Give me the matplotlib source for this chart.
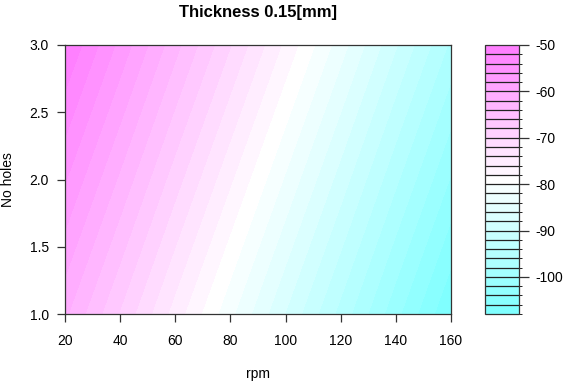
"""
Filled contour of the thickness 0.15 mm response surface (rpm vs number of holes),
redrawn in the look of R's filled.contour with cm.colors.
"""
import colorsys
import numpy as np
import matplotlib
matplotlib.use("Agg")
import matplotlib.pyplot as plt
from matplotlib.colors import ListedColormap, BoundaryNorm

plt.rcParams["font.family"] = ["Liberation Sans", "DejaVu Sans"]

# --- values ---
rpm = [20, 40, 60, 80, 100, 120, 140, 160]
holes = [1.0, 1.5, 2.0, 2.5, 3.0]
# one row per holes value (bottom to top), one column per rpm
resp_h10 = [-61.6, -68.2, -74.9, -81.5, -88.1, -94.7, -101.4, -108.0]
resp_h15 = [-58.7, -65.3, -72.0, -78.6, -85.2, -91.8, -98.5, -105.1]
resp_h20 = [-55.8, -62.4, -69.1, -75.7, -82.3, -88.9, -95.6, -102.2]
resp_h25 = [-52.9, -59.5, -66.2, -72.8, -79.4, -86.0, -92.7, -99.3]
resp_h30 = [-50.0, -56.6, -63.3, -69.9, -76.5, -83.1, -89.8, -96.4]

level_lo, level_hi, level_step = -108, -50, 2
cbar_ticks = [-100, -90, -80, -70, -60, -50]
x_ticks = [20, 40, 60, 80, 100, 120, 140, 160]
y_ticks = [1.0, 1.5, 2.0, 2.5, 3.0]

Z = np.array([resp_h10, resp_h15, resp_h20, resp_h25, resp_h30])
levels = np.arange(level_lo, level_hi + level_step, level_step)
n_band = len(levels) - 1


# R's cm.colors(n): cyan -> white -> magenta
def cm_colors(n):
    k = n // 2
    even = n % 2 == 0
    l1 = k + 1 - int(even)
    l2 = n - k + int(even)
    s1 = np.linspace(0.5, 0.5 / k if even else 0.0, l1)
    s2 = np.linspace(0.0, 0.5, l2)[1:]
    cols = [colorsys.hsv_to_rgb(6 / 12, s, 1.0) for s in s1]
    cols += [colorsys.hsv_to_rgb(10 / 12, s, 1.0) for s in s2]
    return cols


cmap = ListedColormap(cm_colors(n_band))
norm = BoundaryNorm(levels, n_band)

W, H = 565, 383
FS = 10
fig = plt.figure(figsize=(W / 100, H / 100), dpi=100)

# main panel
L, R, T, B = 65, 451, 45, 314
ax = fig.add_axes([L / W, 1 - B / H, (R - L) / W, (B - T) / H])
cf = ax.contourf(rpm, holes, Z, levels=levels, cmap=cmap, norm=norm, antialiased=False)
ax.set_xlim(20, 160)
ax.set_ylim(1, 3)
ax.set_xticks(x_ticks)
ax.set_yticks(y_ticks)
ax.set_yticklabels([f"{v:.1f}" for v in y_ticks])
ax.tick_params(axis="x", length=6, width=0.9, pad=8.5, labelsize=FS, color="#333333")
ax.tick_params(axis="y", length=6, width=0.9, pad=5.5, labelsize=FS, color="#333333")
for sp in ax.spines.values():
    sp.set_linewidth(0.9)
    sp.set_color("#333333")

fig.text(258 / W, 1 - 374 / H, "rpm", ha="center", va="center", fontsize=FS)
fig.text(8 / W, 1 - 180 / H, "No holes", ha="center", va="center", rotation=90, fontsize=FS)

# colour key
cL, cR = 485, 519
cax = fig.add_axes([cL / W, 1 - B / H, (cR - cL) / W, (B - T) / H])
cb = fig.colorbar(cf, cax=cax, drawedges=True, ticks=cbar_ticks)
cb.outline.set_linewidth(0.9)
cb.outline.set_edgecolor("#333333")
cb.dividers.set_linewidth(0.9)
cb.dividers.set_color("#222222")
cax.tick_params(length=7, width=0.9, pad=5, labelsize=FS, color="#333333")
cax.set_yticklabels([str(t) for t in cbar_ticks])

fig.text(258 / W, 1 - 12 / H, "Thickness 0.15[mm]", ha="center", va="center",
         fontsize=12, fontweight="bold")

fig.savefig("out.png", dpi=100)
